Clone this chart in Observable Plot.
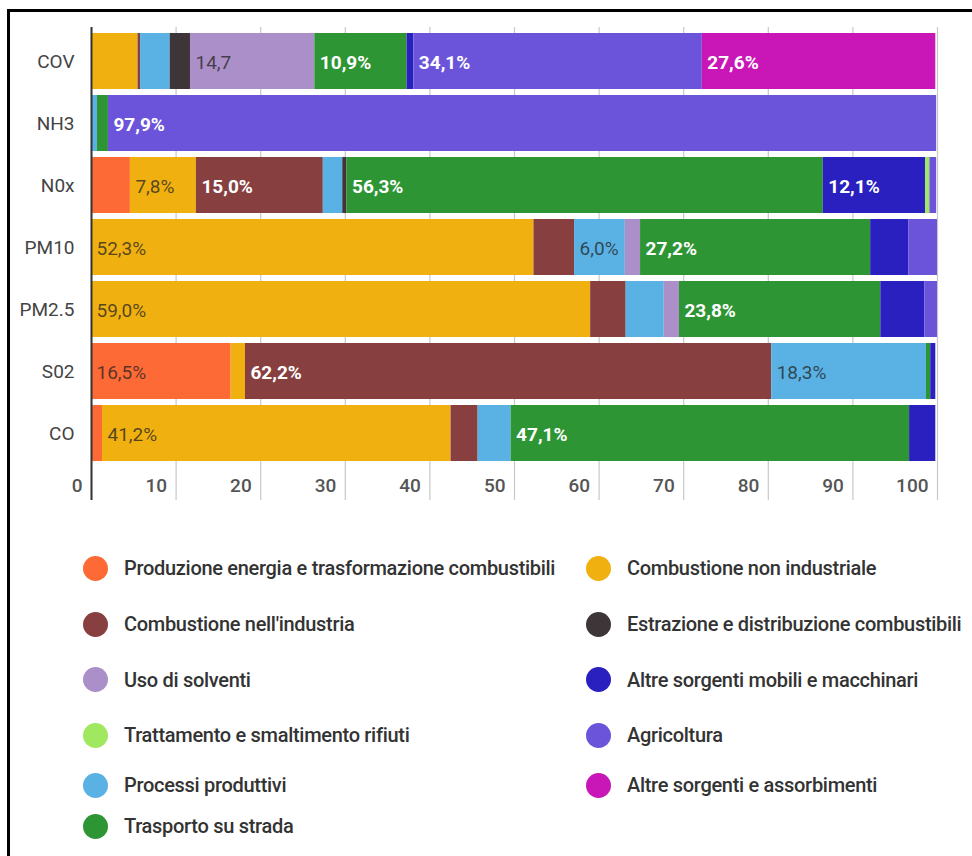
<!DOCTYPE html>
<html>
<head>
<meta charset="utf-8">
<script src="https://cdn.jsdelivr.net/npm/d3@7"></script>
<script src="https://cdn.jsdelivr.net/npm/@observablehq/plot@0.6"></script>
<style>
  html, body { margin: 0; padding: 0; background: #fff; }
  body { width: 972px; height: 856px; position: relative; overflow: hidden; font-family: Roboto, sans-serif; }
  #frame { position: absolute; left: 7px; top: 9px; width: 980px; height: 860px; border-left: 3px solid #000; border-top: 3px solid #000; pointer-events: none; }
  #chart { position: absolute; left: 0; top: 0; }
  #legend { position: absolute; left: 83px; top: 540px; display: grid; grid-template-columns: 503px 380px; grid-template-rows: 56px 56px 55px 56px 44px 38px; grid-auto-flow: column; }
  .item { display: flex; align-items: center; font-size: 20px; font-weight: 500; letter-spacing: -0.3px; color: #333; white-space: nowrap; }
  .dot { width: 25px; height: 25px; border-radius: 50%; margin-right: 16px; flex: none; }
</style>
</head>
<body>
<div id="chart"></div>
<div id="legend"></div>
<div id="frame"></div>
<script>
const pollutants = ["COV", "NH3", "N0x", "PM10", "PM2.5", "S02", "CO"];

const sources = [
  "Produzione energia e trasformazione combustibili",
  "Combustione non industriale",
  "Combustione nell'industria",
  "Processi produttivi",
  "Estrazione e distribuzione combustibili",
  "Uso di solventi",
  "Trasporto su strada",
  "Altre sorgenti mobili e macchinari",
  "Trattamento e smaltimento rifiuti",
  "Agricoltura",
  "Altre sorgenti e assorbimenti"
];
const colors = ["#fe6a35", "#f0b00f", "#873f3f", "#5ab1e4", "#3d3537", "#aa8fc8", "#2e9535", "#2a20c0", "#a0e860", "#6b54da", "#c916b6"];

// values in the order of `sources`
const valuesCOV  = [0,   5.5, 0.3, 3.5, 2.4, 14.7, 10.9, 0.8, 0,   34.1, 27.6];
const valuesNH3  = [0,   0,   0,   0.7, 0,   0,    1.3,  0,   0,   97.9, 0];
const valuesNOx  = [4.6, 7.8, 15.0, 2.3, 0.5, 0,   56.3, 12.1, 0.5, 0.8, 0];
const valuesPM10 = [0,   52.3, 4.8, 6.0, 0,  1.8,  27.2, 4.5, 0,   3.4,  0];
const valuesPM25 = [0,   59.0, 4.2, 4.5, 0,  1.8,  23.8, 5.2, 0,   1.5,  0];
const valuesSO2  = [16.5, 1.7, 62.2, 18.3, 0, 0,   0.5,  0.6, 0,   0,    0];
const valuesCO   = [1.3, 41.2, 3.2, 3.9, 0,  0,    47.1, 3.1, 0,   0,    0];
const valueTable = [valuesCOV, valuesNH3, valuesNOx, valuesPM10, valuesPM25, valuesSO2, valuesCO];

// bar labels
const labelPollutant = ["COV","COV","COV","COV","NH3","N0x","N0x","N0x","N0x","PM10","PM10","PM10","PM2.5","PM2.5","S02","S02","S02","CO","CO"];
const labelSource    = [5, 6, 9, 10, 9, 1, 2, 6, 7, 1, 3, 6, 1, 6, 0, 2, 3, 1, 6];
const labelText      = ["14,7","10,9%","34,1%","27,6%","97,9%","7,8%","15,0%","56,3%","12,1%","52,3%","6,0%","27,2%","59,0%","23,8%","16,5%","62,2%","18,3%","41,2%","47,1%"];

const xTicks = [0, 10, 20, 30, 40, 50, 60, 70, 80, 90, 100];

// legend order (two columns)
const legendCol1 = [0, 2, 5, 8, 3, 6];
const legendCol2 = [1, 4, 7, 9, 10];

const lightSources = new Set([sources[0], sources[1], sources[3], sources[5], sources[8]]);

const rows = [];
pollutants.forEach((p, i) => {
  sources.forEach((s, j) => {
    const k = labelPollutant.findIndex((lp, n) => lp === p && labelSource[n] === j);
    rows.push({pollutant: p, source: s, value: valueTable[i][j], label: k >= 0 ? labelText[k] : null});
  });
});

const chart = Plot.plot({
  width: 972,
  height: 510,
  marginLeft: 91,
  marginRight: 35,
  marginTop: 30,
  marginBottom: 46,
  style: {fontFamily: "Roboto, sans-serif", background: "transparent"},
  x: {domain: [0, 100]},
  y: {domain: pollutants, paddingInner: 0.1, paddingOuter: 0.05},
  color: {domain: sources, range: colors},
  marks: [
    Plot.ruleX(xTicks, {stroke: "#c8c8c8", strokeWidth: 1.2, insetTop: -3, insetBottom: -36}),
    Plot.barX(rows, {x: "value", y: "pollutant", fill: "source"}),
    Plot.ruleX([0], {stroke: "#333", strokeWidth: 2, insetTop: -3, insetBottom: -36}),
    Plot.text(rows, Plot.stackX1({
      x: "value", y: "pollutant",
      text: d => (d.label && lightSources.has(d.source)) ? d.label : null,
      textAnchor: "start", dx: 5, dy: 1, fontSize: 19, fill: "rgba(35,35,35,0.75)"
    })),
    Plot.text(rows, Plot.stackX1({
      x: "value", y: "pollutant",
      text: d => (d.label && !lightSources.has(d.source)) ? d.label : null,
      textAnchor: "start", dx: 5, dy: 1, fontSize: 19, fontWeight: "bold", fill: "#fff"
    })),
    Plot.axisX({ticks: xTicks, tickSize: 0, tickPadding: 14, textAnchor: "end", dx: -9, fontSize: 19, fontWeight: 500, fill: "#555", label: null, tickFormat: d => String(d)}),
    Plot.axisY({tickSize: 0, tickPadding: 17, fontSize: 19, fill: "#444", label: null})
  ]
});
document.getElementById("chart").appendChild(chart);

const legend = document.getElementById("legend");
function addItem(idx, col, row) {
  const div = document.createElement("div");
  div.className = "item";
  div.style.gridColumn = col;
  div.style.gridRow = row;
  const dot = document.createElement("span");
  dot.className = "dot";
  dot.style.background = colors[idx];
  const txt = document.createElement("span");
  txt.textContent = sources[idx];
  div.appendChild(dot);
  div.appendChild(txt);
  legend.appendChild(div);
}
legendCol1.forEach((idx, r) => addItem(idx, 1, r + 1));
legendCol2.forEach((idx, r) => addItem(idx, 2, r + 1));
</script>
</body>
</html>
